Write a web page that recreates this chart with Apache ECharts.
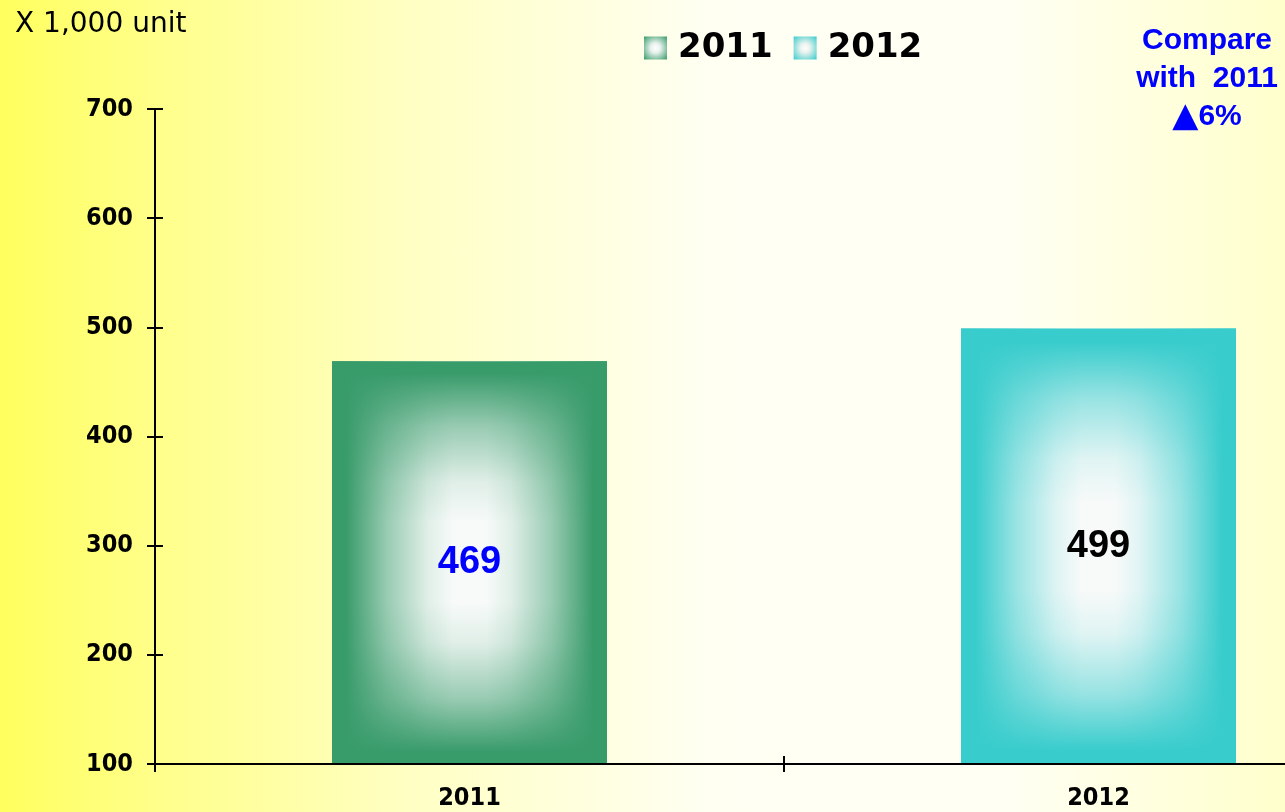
<!DOCTYPE html>
<html>
<head>
<meta charset="utf-8">
<script src="https://cdn.jsdelivr.net/npm/echarts@6/dist/echarts.min.js"></script>
<style>
  html, body { margin: 0; padding: 0; }
  #chart {
    width: 1285px;
    height: 812px;
    background: linear-gradient(to right, #ffff5e 0%, #ffff8a 12%, #ffffc4 32%, #fffff2 55%, #fffff4 78%, #ffffcc 100%);
  }
</style>
</head>
<body>
<div id="chart"></div>
<script>
// data
const categories = ['2011', '2012']
const units = [469, 499]
const yTicks = [100, 700, 100] // min, max, step
const unitNote = 'X 1,000 unit'
const compareNote = 'Compare\nwith  2011\n{tri|▲}6%'

const edgeColors = ['#389b6a', '#38cccc']
const labelColors = ['#0000ff', '#000000']

const chart = echarts.init(document.getElementById('chart'))

const alpha = (hex, a) => {
  const n = parseInt(hex.slice(1), 16)
  return `rgba(${(n >> 16) & 255},${(n >> 8) & 255},${n & 255},${a})`
}

const mid = (c, t) => echarts.color.lerp(t, [c, '#f7faf9'])

// horizontal fade: edge -> white -> edge
const sideFade = (c) => ({
  type: 'linear', x: 0, y: 0, x2: 1, y2: 0,
  colorStops: [
    { offset: 0, color: c },
    { offset: 0.05, color: c },
    { offset: 0.2, color: mid(c, 0.5) },
    { offset: 0.35, color: mid(c, 0.88) },
    { offset: 0.44, color: '#f7faf9' },
    { offset: 0.56, color: '#f7faf9' },
    { offset: 0.65, color: mid(c, 0.88) },
    { offset: 0.8, color: mid(c, 0.5) },
    { offset: 0.95, color: c },
    { offset: 1, color: c },
  ],
})

// vertical fade laid on top
const capFade = (c) => ({
  type: 'linear', x: 0, y: 0, x2: 0, y2: 1,
  colorStops: [
    { offset: 0, color: alpha(c, 1) },
    { offset: 0.03, color: alpha(c, 1) },
    { offset: 0.16, color: alpha(c, 0.5) },
    { offset: 0.3, color: alpha(c, 0.12) },
    { offset: 0.4, color: alpha(c, 0) },
    { offset: 0.6, color: alpha(c, 0) },
    { offset: 0.7, color: alpha(c, 0.12) },
    { offset: 0.84, color: alpha(c, 0.5) },
    { offset: 0.97, color: alpha(c, 1) },
    { offset: 1, color: alpha(c, 1) },
  ],
})

const iconFill = (c) => ({
  type: 'radial', x: 0.5, y: 0.5, r: 0.7,
  colorStops: [
    { offset: 0, color: '#ffffff' },
    { offset: 0.3, color: '#e8f2ee' },
    { offset: 1, color: c },
  ],
})

// base layer in grid 0, fade overlay in grid 1 (same box)
const series = []
categories.forEach((name, i) => {
  const data = categories.map((_, j) => (j === i ? units[j] : '-'))
  series.push({
    name,
    type: 'bar',
    data,
    xAxisIndex: 0,
    yAxisIndex: 0,
    barWidth: 275,
    barGap: '-100%',
    itemStyle: { color: sideFade(edgeColors[i]) },
  })
})
categories.forEach((name, i) => {
  const data = categories.map((_, j) => (j === i ? units[j] : '-'))
  series.push({
    name,
    type: 'bar',
    data,
    xAxisIndex: 1,
    yAxisIndex: 1,
    barWidth: 275,
    barGap: '-100%',
    itemStyle: { color: capFade(edgeColors[i]) },
    label: {
      show: true,
      position: 'inside',
      color: labelColors[i],
      fontFamily: 'Liberation Sans',
      fontWeight: 'bold',
      fontSize: 38,
    },
  })
})

const boldAxisFont = {
  color: '#000',
  fontFamily: 'DejaVu Sans Condensed, DejaVu Sans',
  fontWeight: 'bold',
  fontSize: 25,
}

const blackLine = { color: '#000', width: 2 }

// the plot runs past the right edge: 2 bands of 629px
const plotBox = { left: 155, top: 109, width: 1258, height: 655, outerBoundsMode: 'none' }

const option = {
  animation: false,
  backgroundColor: 'transparent',
  grid: [plotBox, plotBox],
  legend: {
    left: 639,
    top: 26,
    itemWidth: 23,
    itemHeight: 23,
    itemGap: 21,
    icon: 'rect',
    data: categories.map((name, i) => ({
      name,
      itemStyle: { color: iconFill(edgeColors[i]) },
    })),
    textStyle: {
      fontFamily: 'DejaVu Sans',
      fontWeight: 'bold',
      fontSize: 34,
      color: '#000',
      padding: [0, 0, 0, 6],
    },
  },
  graphic: [
    {
      type: 'text',
      left: 15,
      top: 11,
      style: {
        text: unitNote,
        fontFamily: 'DejaVu Sans',
        fontSize: 28,
        fill: '#000',
      },
    },
    {
      type: 'text',
      x: 1207,
      y: 22,
      style: {
        text: compareNote,
        textAlign: 'center',
        fontFamily: 'Liberation Sans',
        fontWeight: 'bold',
        fontSize: 30,
        lineHeight: 38,
        fill: '#0000ff',
        rich: {
          tri: { fontFamily: 'DejaVu Sans', fontSize: 34, fill: '#0000ff', lineHeight: 38 },
        },
      },
    },
  ],
  xAxis: [
    {
      type: 'category',
      gridIndex: 0,
      data: categories,
      z: 3,
      axisLine: { show: true, lineStyle: blackLine },
      axisTick: { show: true, length: 8, lineStyle: blackLine },
      axisLabel: { margin: 22, ...boldAxisFont },
    },
    {
      type: 'category',
      gridIndex: 1,
      data: categories,
      z: 3,
      axisLine: { show: true, lineStyle: blackLine },
      axisTick: { show: true, inside: true, length: 8, lineStyle: blackLine },
      axisLabel: { show: false },
    },
  ],
  yAxis: [
    {
      type: 'value',
      gridIndex: 0,
      min: yTicks[0],
      max: yTicks[1],
      interval: yTicks[2],
      z: 3,
      splitLine: { show: false },
      axisLine: { show: true, lineStyle: blackLine },
      axisTick: { show: true, length: 8, lineStyle: blackLine },
      axisLabel: { margin: 22, ...boldAxisFont },
    },
    {
      type: 'value',
      gridIndex: 1,
      min: yTicks[0],
      max: yTicks[1],
      interval: yTicks[2],
      z: 3,
      splitLine: { show: false },
      axisLine: { show: true, lineStyle: blackLine },
      axisTick: { show: true, inside: true, length: 8, lineStyle: blackLine },
      axisLabel: { show: false },
    },
  ],
  series,
}

chart.setOption(option)
</script>
</body>
</html>
